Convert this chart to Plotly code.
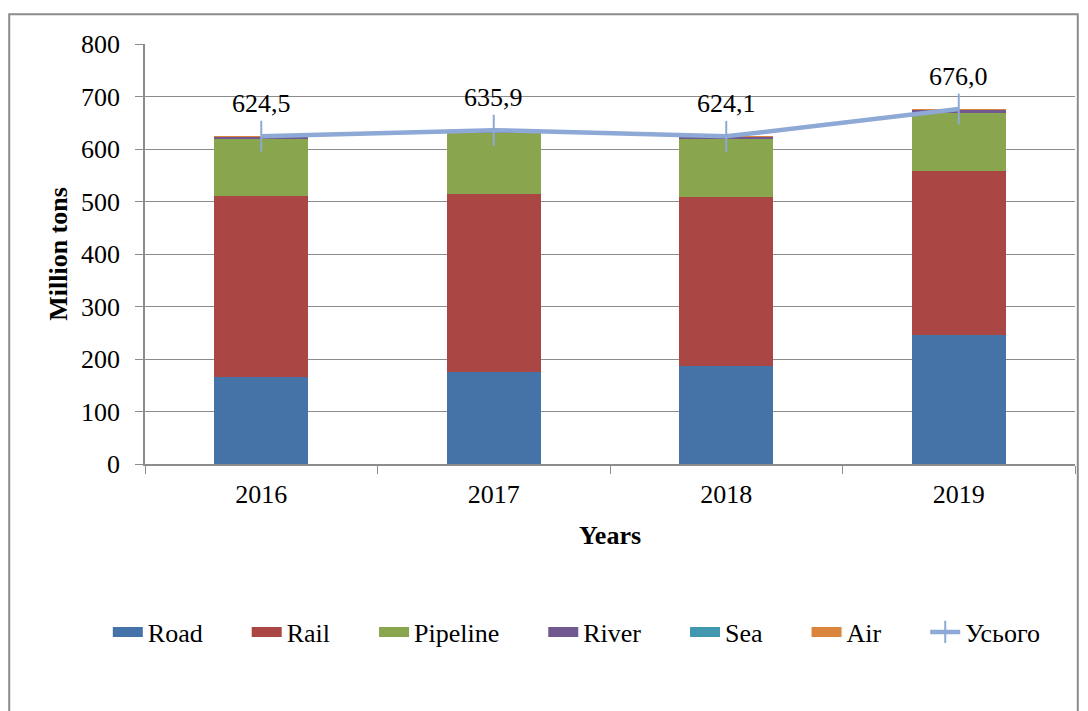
import plotly.graph_objects as go

years = ["2016", "2017", "2018", "2019"]
road = [166, 175, 186, 245]
rail = [345, 340, 322, 313]
pipeline = [108, 116, 111, 111]
river = [4, 4, 4, 6]
sea = [1, 1, 1, 1]
air = [0.05, 0.05, 0.05, 0.05]
total = [624.5, 635.9, 624.1, 676.0]
total_labels = ["624,5", "635,9", "624,1", "676,0"]

bar_series = [
    ("Road", road, "#4572A7"),
    ("Rail", rail, "#AA4643"),
    ("Pipeline", pipeline, "#89A54E"),
    ("River", river, "#71588F"),
    ("Sea", sea, "#4198AF"),
    ("Air", air, "#DB843D"),
]

font = "Liberation Serif, Times New Roman, serif"
grid = "#8C8C8C"
line_col = "#8EA9D6"
pad = "&nbsp;" * 6  # extra room between legend entries

fig = go.Figure()
for name, vals, color in bar_series:
    fig.add_trace(go.Bar(x=years, y=vals, name=name, marker_color=color,
                         marker_line_width=0, width=0.405, showlegend=False,
                         legendgroup=name))
    # wide rectangular legend swatch like the original
    fig.add_trace(go.Scatter(x=[None], y=[None], mode="lines", name=name + pad,
                             legendgroup=name, line=dict(color=color, width=15)))

fig.add_trace(go.Scatter(
    x=years, y=total, name="Усього", mode="lines+markers",
    line=dict(color=line_col, width=4.5),
    marker=dict(symbol="line-ns", size=22, line=dict(color=line_col, width=2)),
))

# category index positions for the value labels
for i, (y, t) in enumerate(zip(total, total_labels)):
    fig.add_annotation(x=i, y=y, text=t, showarrow=False, yshift=33,
                       font=dict(size=26, color="black", family=font))

# page body adds 8px offset, so the figure is drawn slightly smaller
fig.update_layout(
    barmode="stack",
    width=1080, height=703,
    margin=dict(l=137, r=13, t=36, b=247),
    plot_bgcolor="white", paper_bgcolor="white",
    font=dict(family=font, size=26, color="black"),
    showlegend=True,
    legend=dict(orientation="h", x=-0.04, xanchor="left", y=-0.4, yanchor="middle",
                font=dict(size=26, family=font, color="black"),
                traceorder="normal", itemwidth=30),
    shapes=[dict(type="rect", xref="paper", yref="paper",
                 x0=-0.146, x1=1.003, y0=-0.65, y1=1.071,
                 line=dict(color=grid, width=2))],
)
fig.update_xaxes(type="category", range=[-0.5, 3.5], showline=True, linecolor=grid,
                 linewidth=1.5, ticks="outside", tickson="boundaries", ticklen=8,
                 tickcolor=grid, tickangle=0, ticklabelstandoff=6,
                 title=dict(text="<b>Years</b>", font=dict(size=26, family=font), standoff=18),
                 tickfont=dict(size=26, family=font))
fig.update_yaxes(range=[0, 800], dtick=100, showline=True, linecolor=grid, linewidth=1.5,
                 ticks="outside", ticklen=8, tickcolor=grid, ticklabelstandoff=10,
                 showgrid=True, gridcolor=grid, gridwidth=1.3,
                 title=dict(text="<b>Million tons</b>", font=dict(size=26, family=font), standoff=6),
                 tickfont=dict(size=26, family=font))

fig.write_html("out.html")
